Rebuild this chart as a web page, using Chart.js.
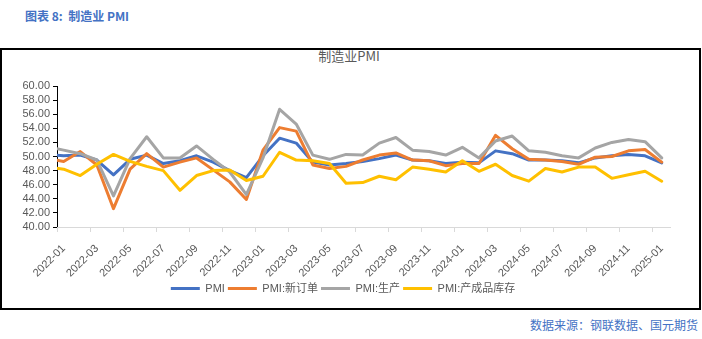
<!DOCTYPE html>
<html><head><meta charset="utf-8">
<script src="https://cdn.jsdelivr.net/npm/chart.js@4.4.1/dist/chart.umd.min.js"></script>
<style>
html,body{margin:0;padding:0;background:#fff;width:702px;height:339px;overflow:hidden;position:relative;}
#frame{position:absolute;left:0;top:48px;width:701px;height:262px;box-sizing:border-box;border:2px solid #000;}
#hdr{position:absolute;left:25px;top:9px;font:bold 12px/14px 'Noto Sans CJK SC';color:#4472C4;white-space:nowrap;}
#ttl{position:absolute;left:0;width:698px;top:48px;text-align:center;font:13px/16px 'Noto Sans CJK SC';color:#595959;}
#src{position:absolute;right:4px;top:318px;font:12px/14px 'Noto Sans CJK SC';color:#4472C4;white-space:nowrap;}
canvas{position:absolute;left:0;top:0;}
</style></head>
<body>
<div id="hdr">图表 8:&nbsp; 制造业 PMI</div>
<div id="frame"></div>
<div id="ttl">制造业PMI</div>
<div id="src">数据来源：钢联数据、国元期货</div>
<canvas id="c" width="702" height="339"></canvas>
<script>
const categories = ["2021-12",
 "2022-01","2022-02","2022-03","2022-04","2022-05","2022-06","2022-07","2022-08","2022-09","2022-10","2022-11","2022-12",
 "2023-01","2023-02","2023-03","2023-04","2023-05","2023-06","2023-07","2023-08","2023-09","2023-10","2023-11","2023-12",
 "2024-01","2024-02","2024-03","2024-04","2024-05","2024-06","2024-07","2024-08","2024-09","2024-10","2024-11","2024-12",
 "2025-01"];
const pmi = [50.3,
 50.1,50.2,49.5,47.4,49.6,50.2,49.0,49.4,50.1,49.2,48.0,47.0,
 50.1,52.6,51.9,49.2,48.8,49.0,49.3,49.7,50.2,49.5,49.4,49.0,
 49.2,49.1,50.8,50.4,49.5,49.5,49.4,49.1,49.8,50.1,50.3,50.1,
 49.1];
const newOrders = [49.7,
 49.3,50.7,48.8,42.6,48.2,50.4,48.5,49.2,49.8,48.1,46.4,43.9,
 50.9,54.1,53.6,48.8,48.3,48.6,49.5,50.2,50.5,49.5,49.4,48.7,
 49.0,49.0,53.0,51.1,49.6,49.5,49.3,48.9,49.9,50.0,50.8,51.0,
 49.2];
const production = [51.4,
 50.9,50.4,49.5,44.4,49.7,52.8,49.8,49.8,51.5,49.6,47.8,44.6,
 49.8,56.7,54.6,50.2,49.6,50.3,50.2,51.9,52.7,50.9,50.7,50.2,
 51.3,49.8,52.2,52.9,50.8,50.6,50.1,49.8,51.2,52.0,52.4,52.1,
 49.8];
const inventory = [48.5,
 48.2,47.3,48.9,50.3,49.3,48.6,48.0,45.2,47.3,48.0,48.1,46.6,
 47.2,50.6,49.5,49.4,49.0,46.2,46.3,47.2,46.7,48.5,48.2,47.8,
 49.4,47.9,48.9,47.3,46.5,48.3,47.8,48.5,48.5,46.9,47.4,47.9,
 46.5];
const seriesNames = ["PMI","PMI:新订单","PMI:生产","PMI:产成品库存"];
const seriesColors = ["#4472C4","#ED7D31","#A5A5A5","#FFC000"];
const xLabelIdx = [0,2,4,6,8,10,12,14,16,18,20,22,24,26,28,30,32,34,36];
const yMin = 40, yMax = 60, yStep = 2;

const FONT = "'Liberation Sans','Noto Sans CJK SC',sans-serif";
const toPts = arr => arr.map((v,i)=>({x:i-1,y:v}));
const seriesData = [pmi,newOrders,production,inventory];

const xTickPlugin = {
  id:'xticks',
  afterDraw(chart){
    const s = chart.scales.x, c = chart.ctx;
    c.save(); c.strokeStyle = '#d9d9d9'; c.lineWidth = 1; c.beginPath();
    for (let k = 0; k < xLabelIdx.length; k++) {
      const px = Math.round(s.getPixelForValue(-0.4 + k*1.99)) + 0.5;
      c.moveTo(px, s.top); c.lineTo(px, s.top + 5);
    }
    c.stroke(); c.restore();
  }
};

new Chart(document.getElementById('c'), {
  type:'line',
  data:{datasets: seriesData.map((d,i)=>({
    label: seriesNames[i], data: toPts(d),
    borderColor: seriesColors[i], backgroundColor: seriesColors[i],
    order: 4 - i, clip:{left:0,right:4,top:4,bottom:4}
  }))},
  options:{
    responsive:false, animation:false,
    layout:{padding:{left:16,right:32,top:86,bottom:35}},
    elements:{line:{borderWidth:3,tension:0,borderJoinStyle:'round',borderCapStyle:'round'},point:{radius:0}},
    plugins:{
      tooltip:{enabled:false},
      legend:{position:'bottom', labels:{
        boxWidth:29, boxHeight:3, padding:3, color:'#595959',
        font:{family:FONT,size:11},
        generateLabels: chart => Chart.defaults.plugins.legend.labels.generateLabels(chart)
          .map(l => Object.assign({}, l, {lineWidth:0, fillStyle:l.strokeStyle})),
        sort:(a,b)=>a.datasetIndex-b.datasetIndex
      }}
    },
    scales:{
      x:{type:'linear', min:-0.4, max:36.5,
        afterBuildTicks:s=>{ s.ticks = xLabelIdx.map(v=>({value:v})); },
        afterFit:s=>{ s.height = 53; },
        grid:{display:false, drawTicks:false},
        border:{display:true,color:'#d9d9d9',width:1},
        ticks:{autoSkip:false,minRotation:45,maxRotation:45,padding:15,color:'#595959',
          font:{family:FONT,size:11}, callback:v=>categories[v+1]}
      },
      y:{min:yMin,max:yMax,
        afterFit:s=>{ s.width = 41; },
        grid:{drawOnChartArea:false,drawTicks:true,tickLength:4,color:'#000'},
        border:{color:'#000',width:1},
        ticks:{autoSkip:false,stepSize:yStep,padding:3,color:'#595959',font:{family:FONT,size:11},
          callback:v=>v.toFixed(2)}
      }
    }
  },
  plugins:[xTickPlugin]
});
</script>
</body></html>
